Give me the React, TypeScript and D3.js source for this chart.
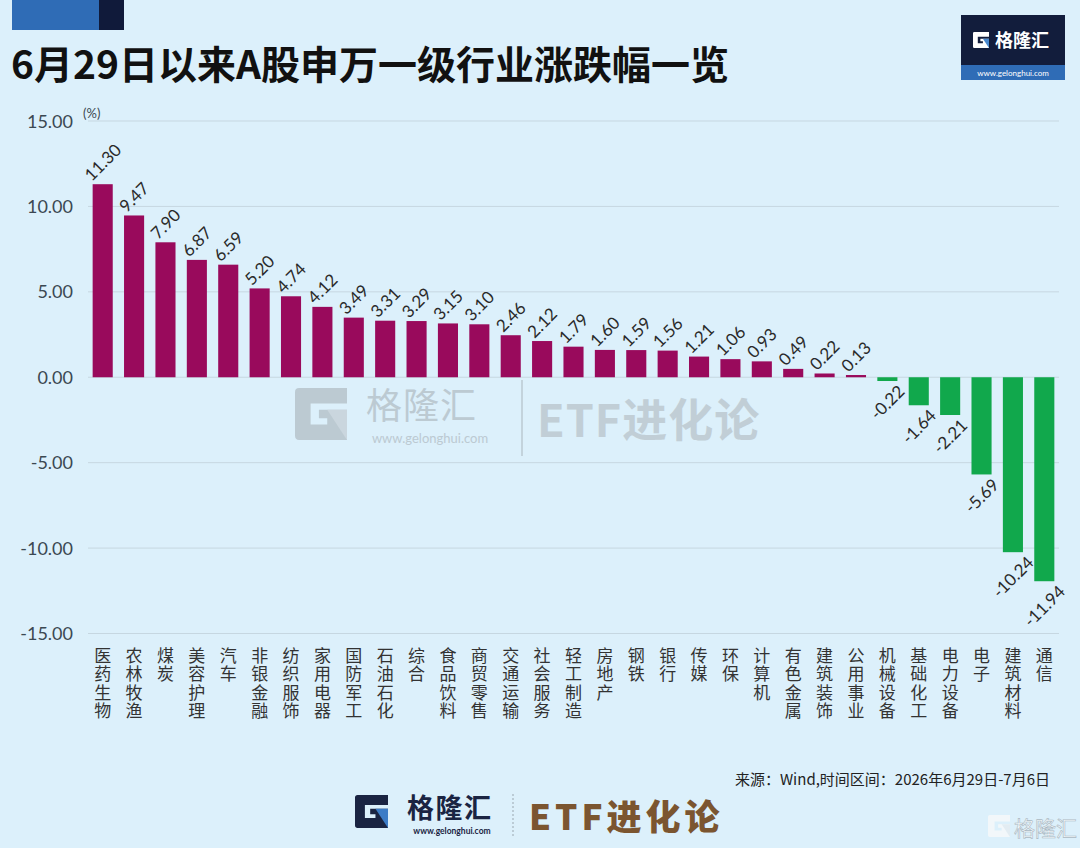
import React from "react";
import * as d3 from "d3";

const categories = ["医药生物","农林牧渔","煤炭","美容护理","汽车","非银金融","纺织服饰","家用电器","国防军工","石油石化","综合","食品饮料","商贸零售","交通运输","社会服务","轻工制造","房地产","钢铁","银行","传媒","环保","计算机","有色金属","建筑装饰","公用事业","机械设备","基础化工","电力设备","电子","建筑材料","通信"];
const values = [11.30,9.47,7.90,6.87,6.59,5.20,4.74,4.12,3.49,3.31,3.29,3.15,3.10,2.46,2.12,1.79,1.60,1.59,1.56,1.21,1.06,0.93,0.49,0.22,0.13,-0.22,-1.64,-2.21,-5.69,-10.24,-11.94];
const yTicks = [15,10,5,0,-5,-10,-15];

const title = "6月29日以来A股申万一级行业涨跌幅一览";
const sourceText = "来源：Wind,时间区间：2026年6月29日-7月6日";

const W = 1080, H = 848;
const BG = "#dcf0fb";
const POS = "#990a5c";
const NEG = "#11a84c";
const CJK = "'Noto Sans CJK SC', 'Noto Sans', sans-serif";
const NUM = "Lato, 'Noto Sans', sans-serif";

const fmt = (v: number) => d3.format(".2f")(v).replace("\u2212", "-");

function GIcon({ x, y, s, dark, blue }: { x: number; y: number; s: number; dark: string; blue: string }) {
  return (
    <g transform={`translate(${x},${y}) scale(${s})`}>
      <path d="M0.08,0 H1 V0.3 H0.3 V0.7 H0.62 V0.58 H0.46 V0.42 H1 V1 H0.08 Q0,1 0,0.92 V0.08 Q0,0 0.08,0 Z" fill={dark} />
      <path d="M0.62,0.42 L1,0.42 L1,1 Z" fill={blue} />
    </g>
  );
}

function estW(t: string, fs: number) {
  let w = 0;
  for (const c of t) {
    if (c === ".") w += 0.26;
    else if (c === "-") w += 0.34;
    else w += 0.58;
  }
  return w * fs;
}

export default function App() {
  const x = d3.scaleBand<string>().domain(categories).range([87, 1060]).paddingInner(0.36).paddingOuter(0.18);
  const y = d3.scaleLinear().domain([-15, 15]).range([633.5, 121]);
  const bw = x.bandwidth();
  const labFs = 17;
  const capH = 0.72 * labFs;

  return (
    <svg width={W} height={H} style={{ position: "absolute", left: 0, top: 0 }} xmlns="http://www.w3.org/2000/svg">
      <rect x={0} y={0} width={W} height={H} fill={BG} />
      {/* top-left decorative blocks */}
      <rect x={12} y={0} width={87} height={30} fill="#2f6cb6" />
      <rect x={99} y={0} width={25} height={30} fill="#101a3a" />
      {/* title */}
      <text x={11} y={79} fontFamily={CJK} fontWeight={700} fontSize={39} fill="#111">{title}</text>

      {/* top-right logo */}
      <g>
        <rect x={961} y={15} width={104} height={51} fill="#121d3c" />
        <rect x={961} y={65} width={104} height={15} fill="#2f6cb6" />
        <GIcon x={973} y={32} s={16} dark="#ffffff" blue="#4a8ad0" />
        <text x={995} y={47} fontFamily={CJK} fontWeight={700} fontSize={18} fill="#fff">格隆汇</text>
        <text x={1013} y={76} textAnchor="middle" fontFamily={NUM} fontSize={8} fill="#fff">www.gelonghui.com</text>
      </g>

      {/* center watermark */}
      <g opacity={0.9}>
        <GIcon x={295} y={388} s={52} dark="#b9c6ce" blue="#c9d4db" />
        <text x={366} y={419} fontFamily={CJK} fontSize={36} letterSpacing={1} fill="#b9c6ce">格隆汇</text>
        <text x={430} y={443} textAnchor="middle" fontFamily={NUM} fontSize={13} fill="#b9c6ce">www.gelonghui.com</text>
        <line x1={522} x2={522} y1={380} y2={456} stroke="#b9c6ce" strokeWidth={1.5} />
        <text x={537} y={437} fontFamily={CJK} fontSize={45} letterSpacing={1} fill="#bfcbd2" fontWeight={700}>ETF进化论</text>
      </g>

      {/* gridlines */}
      {yTicks.map((t) => (
        <line key={t} x1={88} x2={1059} y1={y(t)} y2={y(t)} stroke="#c6d7e1" strokeWidth={1} />
      ))}
      {/* y tick labels */}
      {yTicks.map((t) => (
        <text key={"l" + t} x={73} y={y(t) + 6.5} textAnchor="end" fontFamily={NUM} fontSize={18} fill="#3b4852">
          {fmt(t)}
        </text>
      ))}
      <text x={83} y={118} fontFamily={NUM} fontSize={13} fill="#3b4852">(%)</text>

      {/* bars */}
      {categories.map((c, i) => {
        const v = values[i];
        const y0 = y(0), y1 = y(v);
        return (
          <rect key={c} x={x(c)!} y={Math.min(y0, y1)} width={bw} height={Math.abs(y1 - y0)} fill={v >= 0 ? POS : NEG} />
        );
      })}

      {/* value labels */}
      {categories.map((c, i) => {
        const v = values[i];
        const t = fmt(v);
        const w = estW(t, labFs);
        const side = (w + capH) * 0.7071;
        const cx = x(c)! + bw / 2;
        const cy = v >= 0 ? y(v) - 2 - side / 2 : y(v) + 3 + side / 2;
        return (
          <text key={"v" + c} transform={`translate(${cx},${cy}) rotate(-45)`} textAnchor="middle" dy={capH / 2}
            fontFamily={NUM} fontSize={labFs} fill="#2a2a2a">{t}</text>
        );
      })}

      {/* category labels (vertical) */}
      {categories.map((c) => {
        const cx = x(c)! + bw / 2;
        return (
          <text key={"c" + c} x={cx} y={647} fontFamily={CJK} fontSize={17} fill="#333"
            style={{ writingMode: "vertical-rl", letterSpacing: "1.5px" } as any}>
            {c}
          </text>
        );
      })}

      {/* source */}
      <text x={1050} y={785} textAnchor="end" fontFamily={CJK} fontSize={15} fill="#222">{sourceText}</text>

      {/* bottom logo */}
      <g>
        <GIcon x={355} y={795} s={33} dark="#1a2442" blue="#3c7cc6" />
        <text x={407} y={818} fontFamily={CJK} fontWeight={700} fontSize={27} letterSpacing={1.5} fill="#1a2442">格隆汇</text>
        <text x={452} y={834} textAnchor="middle" fontFamily={NUM} fontWeight={700} fontSize={8.5} fill="#1a2442">www.gelonghui.com</text>
        <line x1={513} x2={513} y1={794} y2={836} stroke="#9aa7b0" strokeWidth={1} strokeDasharray="2,2" />
        <text x={529} y={830} fontFamily={CJK} fontWeight={900} fontSize={35} letterSpacing={4} fill="#7b5530">ETF进化论</text>
      </g>

      {/* bottom-right watermark */}
      <g>
        <GIcon x={988} y={815} s={22} dark="#f2f7fa" blue="#e2ecf2" />
        <text x={1014} y={836} fontFamily={CJK} fontSize={21} fill="#f2f7fa" stroke="#aab8c2" strokeWidth={0.6}>格隆汇</text>
      </g>
    </svg>
  );
}
